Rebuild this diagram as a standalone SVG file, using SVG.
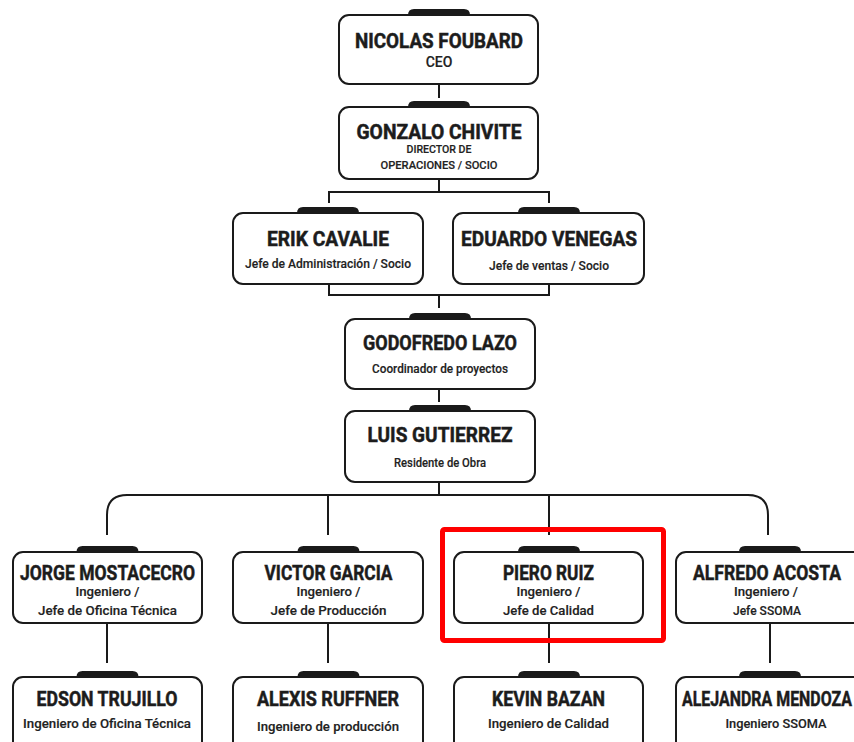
<svg xmlns="http://www.w3.org/2000/svg" width="854" height="742" viewBox="0 0 854 742">
<style>
.box{fill:#fff;stroke:#1a1a1a;stroke-width:2}
.tab{fill:#1a1a1a}
.ln{fill:none;stroke:#1a1a1a;stroke-width:2}
.nm{font-family:Roboto,"Liberation Sans",sans-serif;font-weight:700;font-size:21px;fill:#1c1c1c;stroke:#1c1c1c;stroke-width:0.5;text-anchor:middle}
.sb{font-family:Roboto,"Liberation Sans",sans-serif;font-weight:500;font-size:12.5px;fill:#222;stroke:#222;stroke-width:0.15;text-anchor:middle}
.hl{fill:none;stroke:#ff0000;stroke-width:5}
</style>
<defs>
<path id="tb" d="M-31,0 Q-31,-6 -25,-6 H25 Q31,-6 31,0 Z"/>
</defs>
<rect width="854" height="742" fill="#fff"/>
<g id="connectors">
<path class="ln" d="M439,84 V98"/>
<path class="ln" d="M439,179 V192 M329,203 V192 H549 V203"/>
<path class="ln" d="M329,284 V295 H549 V284 M439,295 V308"/>
<path class="ln" d="M439,389 V402"/>
<path class="ln" d="M439,482 V495 M107,535 V515 Q107,495 127,495 H748 Q768,495 768,515 V535 M328,495 V535 M549,495 V535"/>
<path class="ln" d="M107,623 V663 M328,623 V663 M549,623 V663 M770,623 V663"/>
</g>
<g id="n-nicolas">
<use href="#tb" class="tab" x="439" y="15"/>
<rect class="box" x="339" y="15" width="199" height="69" rx="10"/>
<text class="nm" x="439" y="48" textLength="168" lengthAdjust="spacingAndGlyphs">NICOLAS FOUBARD</text>
<text class="sb" x="439" y="67" style="font-size:14px">CEO</text>
</g>
<g id="n-gonzalo">
<use href="#tb" class="tab" x="439" y="107"/>
<rect class="box" x="339" y="107" width="199" height="72" rx="10"/>
<text class="nm" x="439" y="139" style="font-size:20px" textLength="165" lengthAdjust="spacingAndGlyphs">GONZALO CHIVITE</text>
<text class="sb" x="439" y="153" style="font-size:10px" textLength="65" lengthAdjust="spacingAndGlyphs">DIRECTOR DE</text>
<text class="sb" x="439" y="169" style="font-size:10px" textLength="117" lengthAdjust="spacingAndGlyphs">OPERACIONES / SOCIO</text>
</g>
<g id="n-erik">
<use href="#tb" class="tab" x="328" y="213"/>
<rect class="box" x="233" y="213" width="190" height="71" rx="10"/>
<text class="nm" x="328" y="246" textLength="122" lengthAdjust="spacingAndGlyphs">ERIK CAVALIE</text>
<text class="sb" x="328" y="268" textLength="166" lengthAdjust="spacingAndGlyphs">Jefe de Administración / Socio</text>
</g>
<g id="n-eduardo">
<use href="#tb" class="tab" x="549" y="213"/>
<rect class="box" x="453" y="213" width="191" height="71" rx="10"/>
<text class="nm" x="549" y="246" textLength="176" lengthAdjust="spacingAndGlyphs">EDUARDO VENEGAS</text>
<text class="sb" x="549" y="270" textLength="120" lengthAdjust="spacingAndGlyphs">Jefe de ventas / Socio</text>
</g>
<g id="n-godofredo">
<use href="#tb" class="tab" x="440" y="319"/>
<rect class="box" x="345" y="319" width="190" height="70" rx="10"/>
<text class="nm" x="440" y="350" textLength="154" lengthAdjust="spacingAndGlyphs">GODOFREDO LAZO</text>
<text class="sb" x="440" y="373" textLength="136" lengthAdjust="spacingAndGlyphs">Coordinador de proyectos</text>
</g>
<g id="n-luis">
<use href="#tb" class="tab" x="440" y="411"/>
<rect class="box" x="345" y="411" width="190" height="71" rx="10"/>
<text class="nm" x="440" y="442" textLength="145" lengthAdjust="spacingAndGlyphs">LUIS GUTIERREZ</text>
<text class="sb" x="440" y="467" textLength="92" lengthAdjust="spacingAndGlyphs">Residente de Obra</text>
</g>
<g id="n-jorge">
<use href="#tb" class="tab" x="107.5" y="552"/>
<rect class="box" x="13" y="552" width="189" height="71" rx="10"/>
<text class="nm" x="107.5" y="580" textLength="175" lengthAdjust="spacingAndGlyphs">JORGE MOSTACECRO</text>
<text class="sb" x="107.5" y="596" textLength="64" lengthAdjust="spacingAndGlyphs">Ingeniero /</text>
<text class="sb" x="107.5" y="615" textLength="139" lengthAdjust="spacingAndGlyphs">Jefe de Oficina Técnica</text>
</g>
<g id="n-victor">
<use href="#tb" class="tab" x="328.5" y="552"/>
<rect class="box" x="233" y="552" width="190" height="71" rx="10"/>
<text class="nm" x="328.5" y="580" textLength="128" lengthAdjust="spacingAndGlyphs">VICTOR GARCIA</text>
<text class="sb" x="328.5" y="596" textLength="64" lengthAdjust="spacingAndGlyphs">Ingeniero /</text>
<text class="sb" x="328.5" y="615" textLength="116" lengthAdjust="spacingAndGlyphs">Jefe de Producción</text>
</g>
<g id="n-piero">
<use href="#tb" class="tab" x="549" y="552"/>
<rect class="box" x="454" y="552" width="189" height="71" rx="10"/>
<text class="nm" x="548.5" y="580" textLength="91" lengthAdjust="spacingAndGlyphs">PIERO RUIZ</text>
<text class="sb" x="548.5" y="596" textLength="64" lengthAdjust="spacingAndGlyphs">Ingeniero /</text>
<text class="sb" x="548.5" y="615" textLength="91" lengthAdjust="spacingAndGlyphs">Jefe de Calidad</text>
</g>
<g id="n-alfredo">
<use href="#tb" class="tab" x="770" y="552"/>
<rect class="box" x="676" y="552" width="189" height="71" rx="10"/>
<text class="nm" transform="translate(767 580) scale(0.85 1)" x="0" y="0" textLength="174" lengthAdjust="spacingAndGlyphs">ALFREDO ACOSTA</text>
<text class="sb" x="766" y="596" textLength="64" lengthAdjust="spacingAndGlyphs">Ingeniero /</text>
<text class="sb" x="767" y="615" textLength="68" lengthAdjust="spacingAndGlyphs">Jefe SSOMA</text>
</g>
<g id="n-edson">
<use href="#tb" class="tab" x="107.5" y="677"/>
<rect class="box" x="13" y="677" width="189" height="80" rx="10"/>
<text class="nm" x="107" y="706" textLength="141" lengthAdjust="spacingAndGlyphs">EDSON TRUJILLO</text>
<text class="sb" x="107" y="728" textLength="168" lengthAdjust="spacingAndGlyphs">Ingeniero de Oficina Técnica</text>
</g>
<g id="n-alexis">
<use href="#tb" class="tab" x="328.5" y="677"/>
<rect class="box" x="233" y="677" width="190" height="80" rx="10"/>
<text class="nm" x="328" y="706" textLength="142" lengthAdjust="spacingAndGlyphs">ALEXIS RUFFNER</text>
<text class="sb" x="328" y="731" textLength="142" lengthAdjust="spacingAndGlyphs">Ingeniero de producción</text>
</g>
<g id="n-kevin">
<use href="#tb" class="tab" x="549" y="677"/>
<rect class="box" x="454" y="677" width="189" height="80" rx="10"/>
<text class="nm" x="548.5" y="706" textLength="113" lengthAdjust="spacingAndGlyphs">KEVIN BAZAN</text>
<text class="sb" x="548.5" y="728" textLength="121" lengthAdjust="spacingAndGlyphs">Ingeniero de Calidad</text>
</g>
<g id="n-alejandra">
<use href="#tb" class="tab" x="770" y="677"/>
<rect class="box" x="676" y="677" width="189" height="80" rx="10"/>
<text class="nm" transform="translate(767 706) scale(0.72 1)" x="0" y="0" textLength="236" lengthAdjust="spacingAndGlyphs">ALEJANDRA MENDOZA</text>
<text class="sb" x="776" y="728" textLength="101" lengthAdjust="spacingAndGlyphs">Ingeniero SSOMA</text>
</g>
<rect id="highlight" class="hl" x="442.5" y="529.5" width="221" height="111" rx="2"/>
</svg>
